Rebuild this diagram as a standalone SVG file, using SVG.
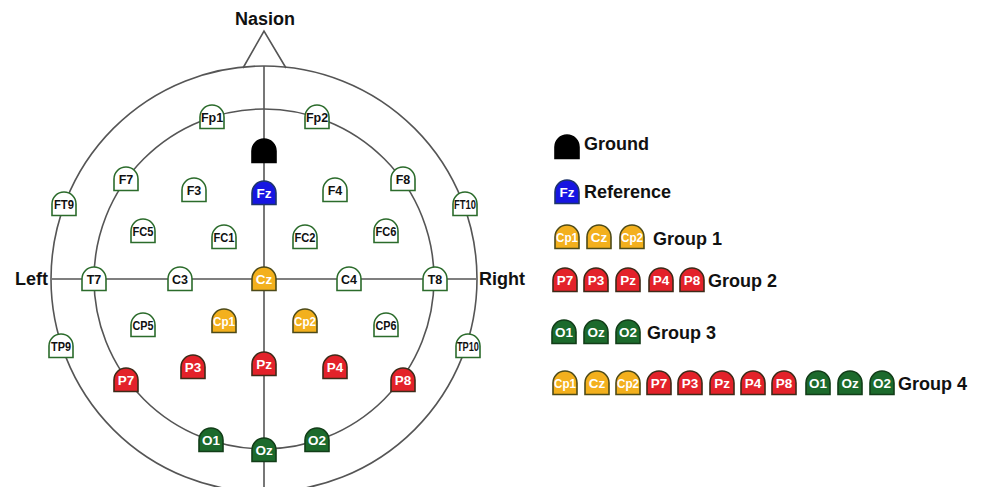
<svg xmlns="http://www.w3.org/2000/svg" xmlns:xlink="http://www.w3.org/1999/xlink" width="982" height="487" viewBox="0 0 982 487">
  <style>
    text { font-family: "Liberation Sans", Arial, sans-serif; font-weight: bold; }
    .n text { text-anchor: middle; font-size: 12.5px; }
    .n use { stroke-width: 1.6; }
    .w use { fill: #ffffff; stroke: #2b6b2b; }
    .w text { fill: #111111; }
    .y use { fill: #F3B01D; stroke: #4d4a18; }
    .r use { fill: #E3222A; stroke: #3d2a18; }
    .g use { fill: #1C6A2C; stroke: #123d18; }
    .b use { fill: #1616E2; stroke: #1e356a; }
    .k use { fill: #000000; stroke: #000000; }
    .y text, .r text, .g text, .b text { fill: #ffffff; font-size: 13.5px; }
    .wire { fill: none; stroke: #555555; stroke-width: 1.6; }
    .lbl { font-size: 18px; fill: #111111; }
  </style>
  <defs>
    <!-- electrode cap: flat bottom, rounded top -->
    <path id="e" d="M-12,11.5 V0 A12,12 0 0 1 12,0 V11.5 Z"/>
  </defs>

  <rect width="982" height="487" fill="#ffffff"/>

  <!-- head outline, midlines and nose -->
  <g id="connectors">
    <circle class="wire" cx="264" cy="279" r="213"/>
    <circle class="wire" cx="264" cy="279" r="170"/>
    <line class="wire" x1="52" y1="279" x2="476" y2="279"/>
    <line class="wire" x1="264" y1="66" x2="264" y2="487"/>
    <polyline class="wire" points="243,68 264,31 286,68"/>
  </g>

  <text class="lbl" x="265" y="25" text-anchor="middle">Nasion</text>
  <text class="lbl" x="15" y="285">Left</text>
  <text class="lbl" x="479" y="285">Right</text>

  <!-- electrodes on the scalp -->
  <g id="Fp1" class="n w" transform="translate(212,117)"><use href="#e"/><text y="5">Fp1</text></g>
  <g id="Fp2" class="n w" transform="translate(317,117)"><use href="#e"/><text y="5">Fp2</text></g>
  <g id="GND" class="n k" transform="translate(264,151)"><use href="#e"/></g>
  <g id="F7" class="n w" transform="translate(126,179)"><use href="#e"/><text y="5">F7</text></g>
  <g id="F3" class="n w" transform="translate(194,190)"><use href="#e"/><text y="5">F3</text></g>
  <g id="Fz" class="n b" transform="translate(264,193)"><use href="#e"/><text y="5">Fz</text></g>
  <g id="F4" class="n w" transform="translate(335,190)"><use href="#e"/><text y="5">F4</text></g>
  <g id="F8" class="n w" transform="translate(403,179)"><use href="#e"/><text y="5">F8</text></g>
  <g id="FT9" class="n w" transform="translate(64,204)"><use href="#e"/><text y="5" textLength="20" lengthAdjust="spacingAndGlyphs">FT9</text></g>
  <g id="FT10" class="n w" transform="translate(465,204)"><use href="#e"/><text y="5" textLength="22" lengthAdjust="spacingAndGlyphs">FT10</text></g>
  <g id="FC5" class="n w" transform="translate(143,231)"><use href="#e"/><text y="5" textLength="21" lengthAdjust="spacingAndGlyphs">FC5</text></g>
  <g id="FC1" class="n w" transform="translate(224,237)"><use href="#e"/><text y="5" textLength="21" lengthAdjust="spacingAndGlyphs">FC1</text></g>
  <g id="FC2" class="n w" transform="translate(305,237)"><use href="#e"/><text y="5" textLength="21" lengthAdjust="spacingAndGlyphs">FC2</text></g>
  <g id="FC6" class="n w" transform="translate(386,231)"><use href="#e"/><text y="5" textLength="21" lengthAdjust="spacingAndGlyphs">FC6</text></g>
  <g id="T7" class="n w" transform="translate(94,279)"><use href="#e"/><text y="5">T7</text></g>
  <g id="C3" class="n w" transform="translate(180,279)"><use href="#e"/><text y="5">C3</text></g>
  <g id="Cz" class="n y" transform="translate(264,279)"><use href="#e"/><text y="5">Cz</text></g>
  <g id="C4" class="n w" transform="translate(349,279)"><use href="#e"/><text y="5">C4</text></g>
  <g id="T8" class="n w" transform="translate(435,279)"><use href="#e"/><text y="5">T8</text></g>
  <g id="CP5" class="n w" transform="translate(143,325)"><use href="#e"/><text y="5" textLength="21" lengthAdjust="spacingAndGlyphs">CP5</text></g>
  <g id="Cp1" class="n y" transform="translate(224,321)"><use href="#e"/><text y="5" textLength="22" lengthAdjust="spacingAndGlyphs">Cp1</text></g>
  <g id="Cp2" class="n y" transform="translate(305,321)"><use href="#e"/><text y="5" textLength="22" lengthAdjust="spacingAndGlyphs">Cp2</text></g>
  <g id="CP6" class="n w" transform="translate(386,325)"><use href="#e"/><text y="5" textLength="21" lengthAdjust="spacingAndGlyphs">CP6</text></g>
  <g id="TP9" class="n w" transform="translate(61,346)"><use href="#e"/><text y="5" textLength="20" lengthAdjust="spacingAndGlyphs">TP9</text></g>
  <g id="TP10" class="n w" transform="translate(468,346)"><use href="#e"/><text y="5" textLength="22" lengthAdjust="spacingAndGlyphs">TP10</text></g>
  <g id="P7" class="n r" transform="translate(126,380)"><use href="#e"/><text y="5">P7</text></g>
  <g id="P3" class="n r" transform="translate(193,367)"><use href="#e"/><text y="5">P3</text></g>
  <g id="Pz" class="n r" transform="translate(264,364)"><use href="#e"/><text y="5">Pz</text></g>
  <g id="P4" class="n r" transform="translate(335,367)"><use href="#e"/><text y="5">P4</text></g>
  <g id="P8" class="n r" transform="translate(403,380)"><use href="#e"/><text y="5">P8</text></g>
  <g id="O1" class="n g" transform="translate(211,440)"><use href="#e"/><text y="5">O1</text></g>
  <g id="Oz" class="n g" transform="translate(264,450)"><use href="#e"/><text y="5">Oz</text></g>
  <g id="O2" class="n g" transform="translate(317,440)"><use href="#e"/><text y="5">O2</text></g>

  <!-- legend -->
  <g id="legend-ground">
    <g class="n k" transform="translate(567,147)"><use href="#e"/></g>
    <text class="lbl" x="584" y="150">Ground</text>
  </g>
  <g id="legend-reference">
    <g class="n b" transform="translate(567,192)"><use href="#e"/><text y="5">Fz</text></g>
    <text class="lbl" x="584" y="198">Reference</text>
  </g>
  <g id="legend-group1">
    <g class="n y" transform="translate(567,237)"><use href="#e"/><text y="5" textLength="22" lengthAdjust="spacingAndGlyphs">Cp1</text></g>
    <g class="n y" transform="translate(599,237)"><use href="#e"/><text y="5">Cz</text></g>
    <g class="n y" transform="translate(632,237)"><use href="#e"/><text y="5" textLength="22" lengthAdjust="spacingAndGlyphs">Cp2</text></g>
    <text class="lbl" x="653" y="245">Group 1</text>
  </g>
  <g id="legend-group2">
    <g class="n r" transform="translate(565,280)"><use href="#e"/><text y="5">P7</text></g>
    <g class="n r" transform="translate(596,280)"><use href="#e"/><text y="5">P3</text></g>
    <g class="n r" transform="translate(628,280)"><use href="#e"/><text y="5">Pz</text></g>
    <g class="n r" transform="translate(661,280)"><use href="#e"/><text y="5">P4</text></g>
    <g class="n r" transform="translate(692,280)"><use href="#e"/><text y="5">P8</text></g>
    <text class="lbl" x="708" y="287">Group 2</text>
  </g>
  <g id="legend-group3">
    <g class="n g" transform="translate(564,332)"><use href="#e"/><text y="5">O1</text></g>
    <g class="n g" transform="translate(596,332)"><use href="#e"/><text y="5">Oz</text></g>
    <g class="n g" transform="translate(628,332)"><use href="#e"/><text y="5">O2</text></g>
    <text class="lbl" x="647" y="339">Group 3</text>
  </g>
  <g id="legend-group4">
    <g class="n y" transform="translate(565,383)"><use href="#e"/><text y="5" textLength="22" lengthAdjust="spacingAndGlyphs">Cp1</text></g>
    <g class="n y" transform="translate(597,383)"><use href="#e"/><text y="5">Cz</text></g>
    <g class="n y" transform="translate(628,383)"><use href="#e"/><text y="5" textLength="22" lengthAdjust="spacingAndGlyphs">Cp2</text></g>
    <g class="n r" transform="translate(659,383)"><use href="#e"/><text y="5">P7</text></g>
    <g class="n r" transform="translate(690,383)"><use href="#e"/><text y="5">P3</text></g>
    <g class="n r" transform="translate(722,383)"><use href="#e"/><text y="5">Pz</text></g>
    <g class="n r" transform="translate(753,383)"><use href="#e"/><text y="5">P4</text></g>
    <g class="n r" transform="translate(784,383)"><use href="#e"/><text y="5">P8</text></g>
    <g class="n g" transform="translate(818,383)"><use href="#e"/><text y="5">O1</text></g>
    <g class="n g" transform="translate(850,383)"><use href="#e"/><text y="5">Oz</text></g>
    <g class="n g" transform="translate(882,383)"><use href="#e"/><text y="5">O2</text></g>
    <text class="lbl" x="898" y="390">Group 4</text>
  </g>
</svg>
